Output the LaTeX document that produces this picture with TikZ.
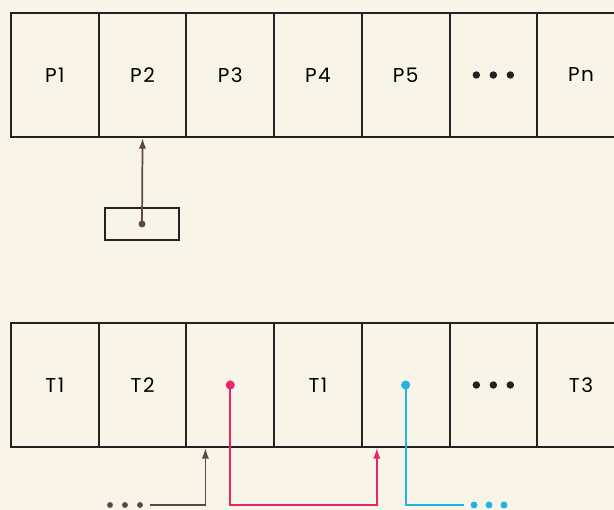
\documentclass[tikz,border=0pt]{standalone}
\usepackage{fontspec}
\setmainfont{Poppins}[LetterSpace=8]
\usepackage{tikz}
\usepackage{xcolor}
\usetikzlibrary{calc,arrows.meta}

\definecolor{paper}{HTML}{F8F4E8}
\definecolor{ink}{HTML}{222222}
\definecolor{pointer}{HTML}{5A4844}
\definecolor{rose}{HTML}{E8246A}
\definecolor{sky}{HTML}{22B4E0}

% three dots, drawn
\newcommand{\tridots}[1][ink]{\tikz{\foreach \k in {0,1,2} \fill[#1] (\k*12.75pt,0) circle (2.8pt);}}

\tikzset{
  cell/.style={draw=ink, line width=1.5pt, minimum width=65.775pt, minimum height=93pt,
    inner sep=0pt, anchor=north west, font=\fontsize{15}{17}\selectfont},
  link/.style={line width=1.3pt, -{Latex[length=8pt,width=5.5pt]}},
  blob/.style={inner sep=5pt}
}

\begin{document}
\begin{tikzpicture}[x=0.75pt,y=-0.75pt]
\useasboundingbox (0,0) rectangle (614,510);
\fill[paper] (0,0) rectangle (614,510);

\foreach \lab [count=\i] in {P1,P2,P3,P4,P5,\tridots,Pn}
  \node[cell] (p\i) at (10+87.7*\i-87.7,12) {\lab};
\foreach \lab [count=\i] in {T1,T2,{},T1,{},\tridots,T3}
  \node[cell] (t\i) at (10+87.7*\i-87.7,322) {\lab};

\node[draw=ink, line width=1.4pt, minimum width=55.5pt, minimum height=24pt] (reg) at (142,224) {};
\draw[link,pointer] (reg.center) -- (p2.south);
\fill[pointer] (reg.center) circle (2.6pt);


\coordinate (low) at (0,505);
\coordinate (gtip) at ($(t3.south west)+(20,0)$);
\coordinate (rtip) at ($(t5.south west)+(16,0)$);
\node[blob] (gdots) at (125,505)
  {\tikz{\foreach \k in {0,1,2} \fill[pointer] (\k*11.25pt,0) circle (2.2pt);}};
\node[blob] (cdots) at (489,505)
  {\tikz{\foreach \k in {0,1,2} \fill[sky] (\k*11.25pt,0) circle (2.6pt);}};

\draw[link,pointer] (gdots.east) -| (gtip);
\draw[link,rose] (t3.center) -- (t3.center |- low) -| (rtip);
\draw[line width=1.3pt,sky] (t5.center) -- (t5.center |- low) -- (cdots.west);
\fill[rose] (t3.center) circle (3.4pt);
\fill[sky] (t5.center) circle (3.4pt);

\end{tikzpicture}
\end{document}
